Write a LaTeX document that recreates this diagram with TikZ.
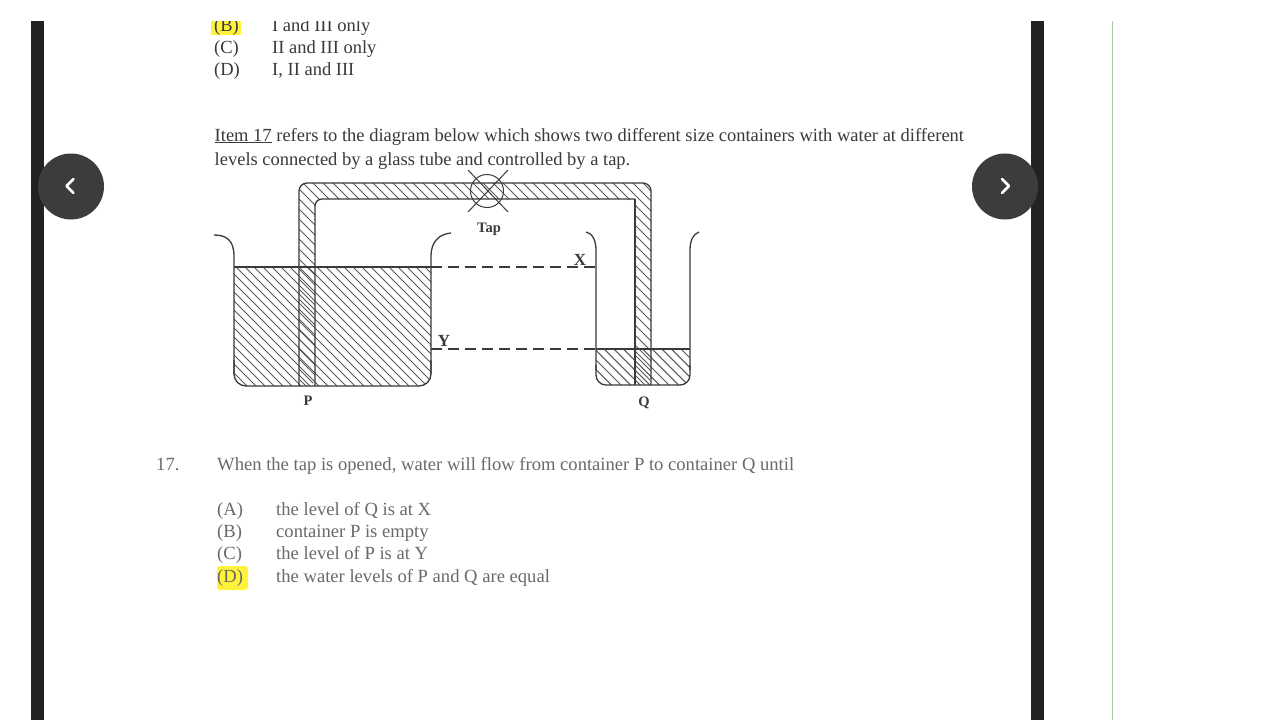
\documentclass[tikz,border=0pt]{standalone}
\usepackage{fontspec}
\setmainfont{Liberation Serif}
\definecolor{ink}{HTML}{3A3A3A}
\definecolor{soft}{HTML}{6A6A6A}
\definecolor{hl}{HTML}{FFF23A}
\definecolor{btn}{HTML}{3C3C3C}
\definecolor{bar}{HTML}{222222}
\definecolor{grn}{HTML}{A8CFA0}
\tikzset{
  upper/.style={anchor=base west,inner sep=0pt,text=ink,font=\fontsize{18.5}{20}\selectfont},
  lower/.style={anchor=base west,inner sep=0pt,text=soft,font=\fontsize{18.6}{20}\selectfont},
  lab/.style={anchor=base,inner sep=0pt,text=ink,font=\fontsize{14.5}{16}\selectfont\bfseries},
  biglab/.style={anchor=base,inner sep=0pt,text=ink,font=\fontsize{17}{18}\selectfont\bfseries},
  wall/.style={draw=ink,line width=1.3pt},
  hatchline/.style={draw=ink!85,line width=1pt},
  level/.style={draw=ink,line width=1.2pt,dash pattern=on 11pt off 6pt},
  navbtn/.style={circle,fill=btn,minimum size=66pt,inner sep=0pt},
  chev/.style={draw=white,line width=2.6pt,line cap=round,line join=round},
}
\begin{document}
\begin{tikzpicture}[x=1pt,y=-1pt]
\useasboundingbox (0,0) rectangle (1280,720);
\fill[white] (0,0) rectangle (1280,720);
% frame
\fill[bar] (31,21) rectangle (44,720);
\fill[bar] (1031,21) rectangle (1044,720);
\fill[grn] (1111.6,21) rectangle (1112.6,720);
% highlights
\fill[hl] (211,15) rectangle (241,35);
\fill[hl,rounded corners=3pt] (217,566) rectangle (248,590);
% top text
\node[upper] (tb) at (214,31) {(B)};
\node[upper] (tbt) at (272,31) {I and III only};
\node[upper] (tc) at (214,53) {(C)};
\node[upper] (tct) at (272,53) {II and III only};
\node[upper] (td) at (214,75) {(D)};
\node[upper] (tdt) at (272,75) {I, II and III};
\fill[white] (0,0) rectangle (1280,21);
\node[upper] (item) at (214.5,141) {\underline{Item 17} refers to the diagram below which shows two different size containers with water at different};
\node[upper] (item2) at (214.5,165) {levels connected by a glass tube and controlled by a tap.};
% water P
\begin{scope}
\clip[rounded corners=12pt] (234,240) -- (234,386) -- (431,386) -- (431,240) -- cycle;
\clip (220,267) rectangle (445,395);
\foreach \i in {0,...,50} \draw[hatchline] ({40+\i*9},260) -- ++(135,135);
\end{scope}
% water Q
\begin{scope}
\clip[rounded corners=10pt] (596,330) -- (596,385) -- (690,385) -- (690,330) -- cycle;
\clip (590,349) rectangle (695,390);
\foreach \i in {0,...,24} \draw[hatchline] ({480+\i*9.6},340) -- ++(55,55);
\end{scope}
% tube hatching
\begin{scope}
\clip[rounded corners=8pt] (299,386) -- (299,183) -- (651,183) -- (651,385) -- (635,385) -- (635,199) -- (315,199) -- (315,386) -- cycle;
\foreach \i in {0,...,60} \draw[hatchline] ({60+\i*10},170) -- ++(240,240);
\end{scope}
% tube outline
\draw[wall,rounded corners=8pt] (299,386) -- (299,183) -- (651,183) -- (651,385);
\draw[wall,rounded corners=7pt] (315,386) -- (315,199) -- (635,199);
\draw[wall] (635,199) -- (635,385);
% container P
\draw[wall] (214,235) .. controls (226,235) and (234,240) .. (234,256) -- (234,374);
\draw[wall] (431,374) -- (431,256) .. controls (431,242) and (439,234) .. (451,233);
\draw[wall,rounded corners=12pt] (234,360) -- (234,386) -- (431,386) -- (431,360);
\draw[wall] (234,267) -- (431,267);
% container Q
\draw[wall] (586,232) .. controls (592,233) and (596,240) .. (596,250) -- (596,370);
\draw[wall] (690,370) -- (690,250) .. controls (690,241) and (693,234) .. (699,232);
\draw[wall,rounded corners=10pt] (596,365) -- (596,385) -- (690,385) -- (690,365);
\draw[wall] (596,349) -- (690,349);
% tap
\coordinate (tapc) at (487,191);
\draw[wall,line width=1pt] (tapc) circle[radius=16.5];
\draw[wall,line width=1pt] (468,170) -- (508,212);
\draw[wall,line width=1pt] (508,170) -- (468,212);
% levels
\coordinate (xa) at (431,267);
\coordinate (xb) at (596,267);
\coordinate (ya) at (431,349);
\coordinate (yb) at (596,349);
\draw[level] (xa) -- (xb);
\draw[level] (ya) -- (yb);
% labels
\node[lab] (tap) at (489,232) {Tap};
\node[biglab] (x) at (580,265) {X};
\node[biglab] (y) at (444,346) {Y};
\node[lab] (p) at (308,405) {P};
\node[lab] (q) at (644,406) {Q};
% question
\node[lower] (n) at (156,470) {17.};
\node[lower] (q17) at (217,470) {When the tap is opened, water will flow from container P to container Q until};
\node[lower] (a) at (217,515) {(A)};
\node[lower] (at) at (276,515) {the level of Q is at X};
\node[lower] (b) at (217,537) {(B)};
\node[lower] (bt) at (276,537) {container P is empty};
\node[lower] (c) at (217,559) {(C)};
\node[lower] (ct) at (276,559) {the level of P is at Y};
\node[lower] (d) at (217,582) {(D)};
\node[lower] (dt) at (276,582) {the water levels of P and Q are equal};
% buttons
\node[navbtn] (lb) at (71,186.5) {};
\node[navbtn] (rb) at (1005,186.5) {};
\draw[chev] (73.5,179) -- (66.5,186) -- (73.5,193);
\draw[chev] (1002,179) -- (1009,186) -- (1002,193);
\end{tikzpicture}
\end{document}
